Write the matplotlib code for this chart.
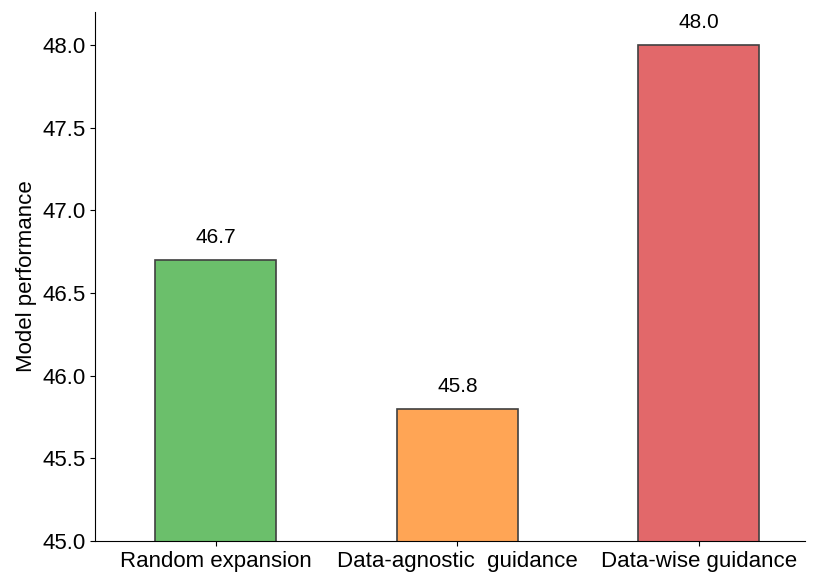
import matplotlib.pyplot as plt

plt.rcParams['font.family'] = ['Liberation Sans', 'DejaVu Sans']

methods = ['Random expansion', 'Data-agnostic  guidance', 'Data-wise guidance']
scores = [46.7, 45.8, 48.0]
colors = ['#6bbf6b', '#ffa555', '#e2686a']

fig = plt.figure(figsize=(8.3, 5.85), dpi=100)
ax = fig.add_axes([0.1145, 0.0752, 0.8555, 0.9043])

x = list(range(len(methods)))
bars = ax.bar(x, scores, width=0.5, color=colors, edgecolor='#404040', linewidth=1.2)

# value labels above each bar
for xi, v in zip(x, scores):
    ax.text(xi, v + 0.08, f'{v:.1f}', ha='center', va='bottom', fontsize=15)

ax.set_ylim(45.0, 48.2)
ax.set_xlim(-0.5, 2.44)
ax.set_yticks([45.0, 45.5, 46.0, 46.5, 47.0, 47.5, 48.0])
ax.set_yticklabels([f'{t:.1f}' for t in ax.get_yticks()])
ax.set_xticks(x)
ax.set_xticklabels(methods)
ax.tick_params(axis='both', labelsize=16)
ax.set_ylabel('Model performance', fontsize=16)

ax.spines['top'].set_visible(False)
ax.spines['right'].set_visible(False)

fig.savefig('out.png', dpi=100)
